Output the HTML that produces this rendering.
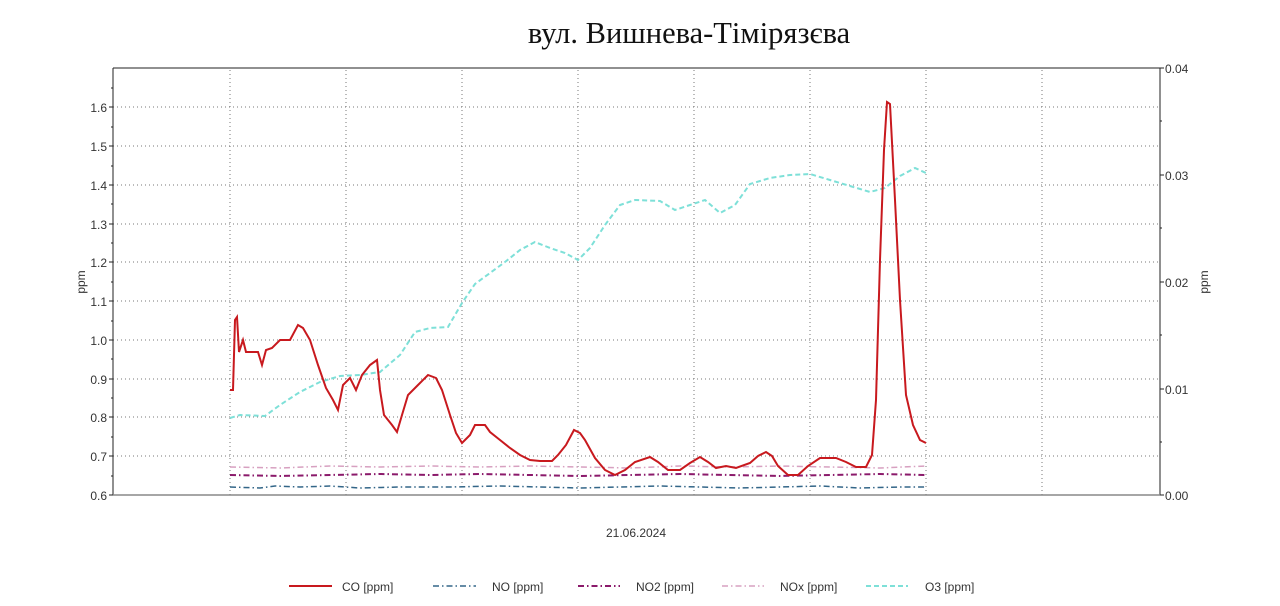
<!DOCTYPE html>
<html><head><meta charset="utf-8"><style>
body{margin:0;background:#fff;}
svg{display:block;font-family:"Liberation Sans",sans-serif;}
</style></head><body>
<svg width="1280" height="606" viewBox="0 0 1280 606">
<text x="689" y="43" text-anchor="middle" font-family="Liberation Serif,serif" font-size="30.5" fill="#111">вул. Вишнева-Тімірязєва</text>
<g stroke="#777" stroke-width="1" stroke-dasharray="1,3">
<line x1="113" x2="1160" y1="107" y2="107"/><line x1="113" x2="1160" y1="146" y2="146"/><line x1="113" x2="1160" y1="185" y2="185"/><line x1="113" x2="1160" y1="224" y2="224"/><line x1="113" x2="1160" y1="262" y2="262"/><line x1="113" x2="1160" y1="301" y2="301"/><line x1="113" x2="1160" y1="340" y2="340"/><line x1="113" x2="1160" y1="379" y2="379"/><line x1="113" x2="1160" y1="417" y2="417"/><line x1="113" x2="1160" y1="456" y2="456"/>
<line x1="230" x2="230" y1="70" y2="495"/><line x1="346" x2="346" y1="70" y2="495"/><line x1="462" x2="462" y1="70" y2="495"/><line x1="578" x2="578" y1="70" y2="495"/><line x1="694" x2="694" y1="70" y2="495"/><line x1="810" x2="810" y1="70" y2="495"/><line x1="926" x2="926" y1="70" y2="495"/><line x1="1042" x2="1042" y1="70" y2="495"/>
</g>
<line x1="113" x2="1160" y1="68" y2="68" stroke="#222"/>
<line x1="113" x2="113" y1="68" y2="495" stroke="#222"/>
<line x1="1160" x2="1160" y1="68" y2="495" stroke="#222"/>
<line x1="113" x2="1160" y1="495" y2="495" stroke="#888" stroke-width="1.5"/>
<g stroke="#222">
<line x1="109" x2="113" y1="107" y2="107"/><line x1="109" x2="113" y1="146" y2="146"/><line x1="109" x2="113" y1="185" y2="185"/><line x1="109" x2="113" y1="224" y2="224"/><line x1="109" x2="113" y1="262" y2="262"/><line x1="109" x2="113" y1="301" y2="301"/><line x1="109" x2="113" y1="340" y2="340"/><line x1="109" x2="113" y1="379" y2="379"/><line x1="109" x2="113" y1="417" y2="417"/><line x1="109" x2="113" y1="456" y2="456"/><line x1="109" x2="113" y1="495" y2="495"/>
<line x1="111" x2="113" y1="88" y2="88"/><line x1="111" x2="113" y1="127" y2="127"/><line x1="111" x2="113" y1="166" y2="166"/><line x1="111" x2="113" y1="204" y2="204"/><line x1="111" x2="113" y1="243" y2="243"/><line x1="111" x2="113" y1="282" y2="282"/><line x1="111" x2="113" y1="321" y2="321"/><line x1="111" x2="113" y1="359" y2="359"/><line x1="111" x2="113" y1="398" y2="398"/><line x1="111" x2="113" y1="437" y2="437"/><line x1="111" x2="113" y1="476" y2="476"/>
<line x1="1160" x2="1164" y1="68" y2="68"/><line x1="1160" x2="1164" y1="175" y2="175"/><line x1="1160" x2="1164" y1="282" y2="282"/><line x1="1160" x2="1164" y1="389" y2="389"/><line x1="1160" x2="1164" y1="495" y2="495"/>
<line x1="1160" x2="1162" y1="121" y2="121"/><line x1="1160" x2="1162" y1="228" y2="228"/><line x1="1160" x2="1162" y1="335" y2="335"/><line x1="1160" x2="1162" y1="442" y2="442"/>
</g>
<g font-size="12" fill="#333" text-anchor="end">
<text x="107" y="112">1.6</text><text x="107" y="151">1.5</text><text x="107" y="190">1.4</text><text x="107" y="229">1.3</text><text x="107" y="267">1.2</text><text x="107" y="306">1.1</text><text x="107" y="345">1.0</text><text x="107" y="384">0.9</text><text x="107" y="422">0.8</text><text x="107" y="461">0.7</text><text x="107" y="500">0.6</text>
</g>
<g font-size="12" fill="#333">
<text x="1165" y="73">0.04</text><text x="1165" y="180">0.03</text><text x="1165" y="287">0.02</text><text x="1165" y="394">0.01</text><text x="1165" y="500">0.00</text>
</g>
<text transform="translate(85,282) rotate(-90)" font-size="12" fill="#333" text-anchor="middle">ppm</text>
<text transform="translate(1208,282) rotate(-90)" font-size="12" fill="#333" text-anchor="middle">ppm</text>
<text x="636" y="537" font-size="12" fill="#333" text-anchor="middle">21.06.2024</text>
<polyline fill="none" stroke="#336688" stroke-width="1.5" stroke-dasharray="6,3,1.5,3" points="230,487 260,488 275,486 300,487 330,486 360,488 400,487 450,487 500,486 540,487 580,488 620,487 660,486 700,487 740,488 780,487 820,486 860,488 900,487 926,487"/>
<polyline fill="none" stroke="#8b1a6b" stroke-width="2" stroke-dasharray="6,3,1.5,3" points="230,475 280,476 330,475 380,474 430,475 480,474 530,475 580,476 630,475 680,474 730,475 780,476 830,475 880,474 926,475"/>
<polyline fill="none" stroke="#d7a0c0" stroke-width="1.5" stroke-dasharray="6,3,1.5,3" points="230,467 280,468 330,466 380,467 430,466 480,467 530,466 580,467 630,468 680,466 730,467 780,466 830,467 880,468 926,466"/>
<polyline fill="none" stroke="#7ee0d8" stroke-width="2" stroke-dasharray="5,3" points="230,418 240,415 265,416 280,405 300,392 320,382 340,376 360,375 380,372 400,355 415,332 430,328 448,327 462,303 475,284 490,273 505,262 520,250 535,242 550,248 565,253 578,260 590,248 605,225 620,205 635,200 660,201 675,210 690,205 705,200 720,213 735,205 750,184 770,178 790,175 810,174 830,180 850,186 870,192 885,188 900,176 915,168 926,173"/>
<polyline fill="none" stroke="#c8191e" stroke-width="2" points="230,390 233,390 235,320 237,317 239,352 243,340 246,352 258,352 262,365 266,350 272,348 280,340 290,340 298,325 303,328 310,340 318,365 326,388 333,400 338,410 343,385 350,378 356,390 362,375 370,365 377,360 380,390 384,415 392,425 397,432 402,415 408,395 418,385 428,375 436,378 442,390 450,415 456,433 462,443 470,435 475,425 485,425 490,432 500,440 510,448 520,455 530,460 540,461 552,461 558,455 566,445 574,430 580,433 585,440 595,458 605,470 615,475 625,470 635,462 650,457 658,462 668,470 680,470 690,463 700,457 708,462 716,468 726,466 736,468 750,463 758,456 766,452 772,456 778,466 788,475 798,475 808,466 820,458 836,458 846,462 856,467 866,467 872,455 876,400 880,260 884,150 887,102 890,104 895,200 900,300 906,395 913,425 920,440 926,443"/>
<g font-size="12" fill="#333">
<line x1="289" x2="332" y1="586" y2="586" stroke="#c8191e" stroke-width="2"/><text x="342" y="591">CO [ppm]</text>
<line x1="433" x2="476" y1="586" y2="586" stroke="#336688" stroke-width="1.5" stroke-dasharray="6,3,1.5,3"/><text x="492" y="591">NO [ppm]</text>
<line x1="578" x2="620" y1="586" y2="586" stroke="#8b1a6b" stroke-width="2" stroke-dasharray="6,3,1.5,3"/><text x="636" y="591">NO2 [ppm]</text>
<line x1="722" x2="764" y1="586" y2="586" stroke="#d7a0c0" stroke-width="1.5" stroke-dasharray="6,3,1.5,3"/><text x="780" y="591">NOx [ppm]</text>
<line x1="866" x2="908" y1="586" y2="586" stroke="#7ee0d8" stroke-width="2" stroke-dasharray="5,3"/><text x="925" y="591">O3 [ppm]</text>
</g>
</svg>
</body></html>
